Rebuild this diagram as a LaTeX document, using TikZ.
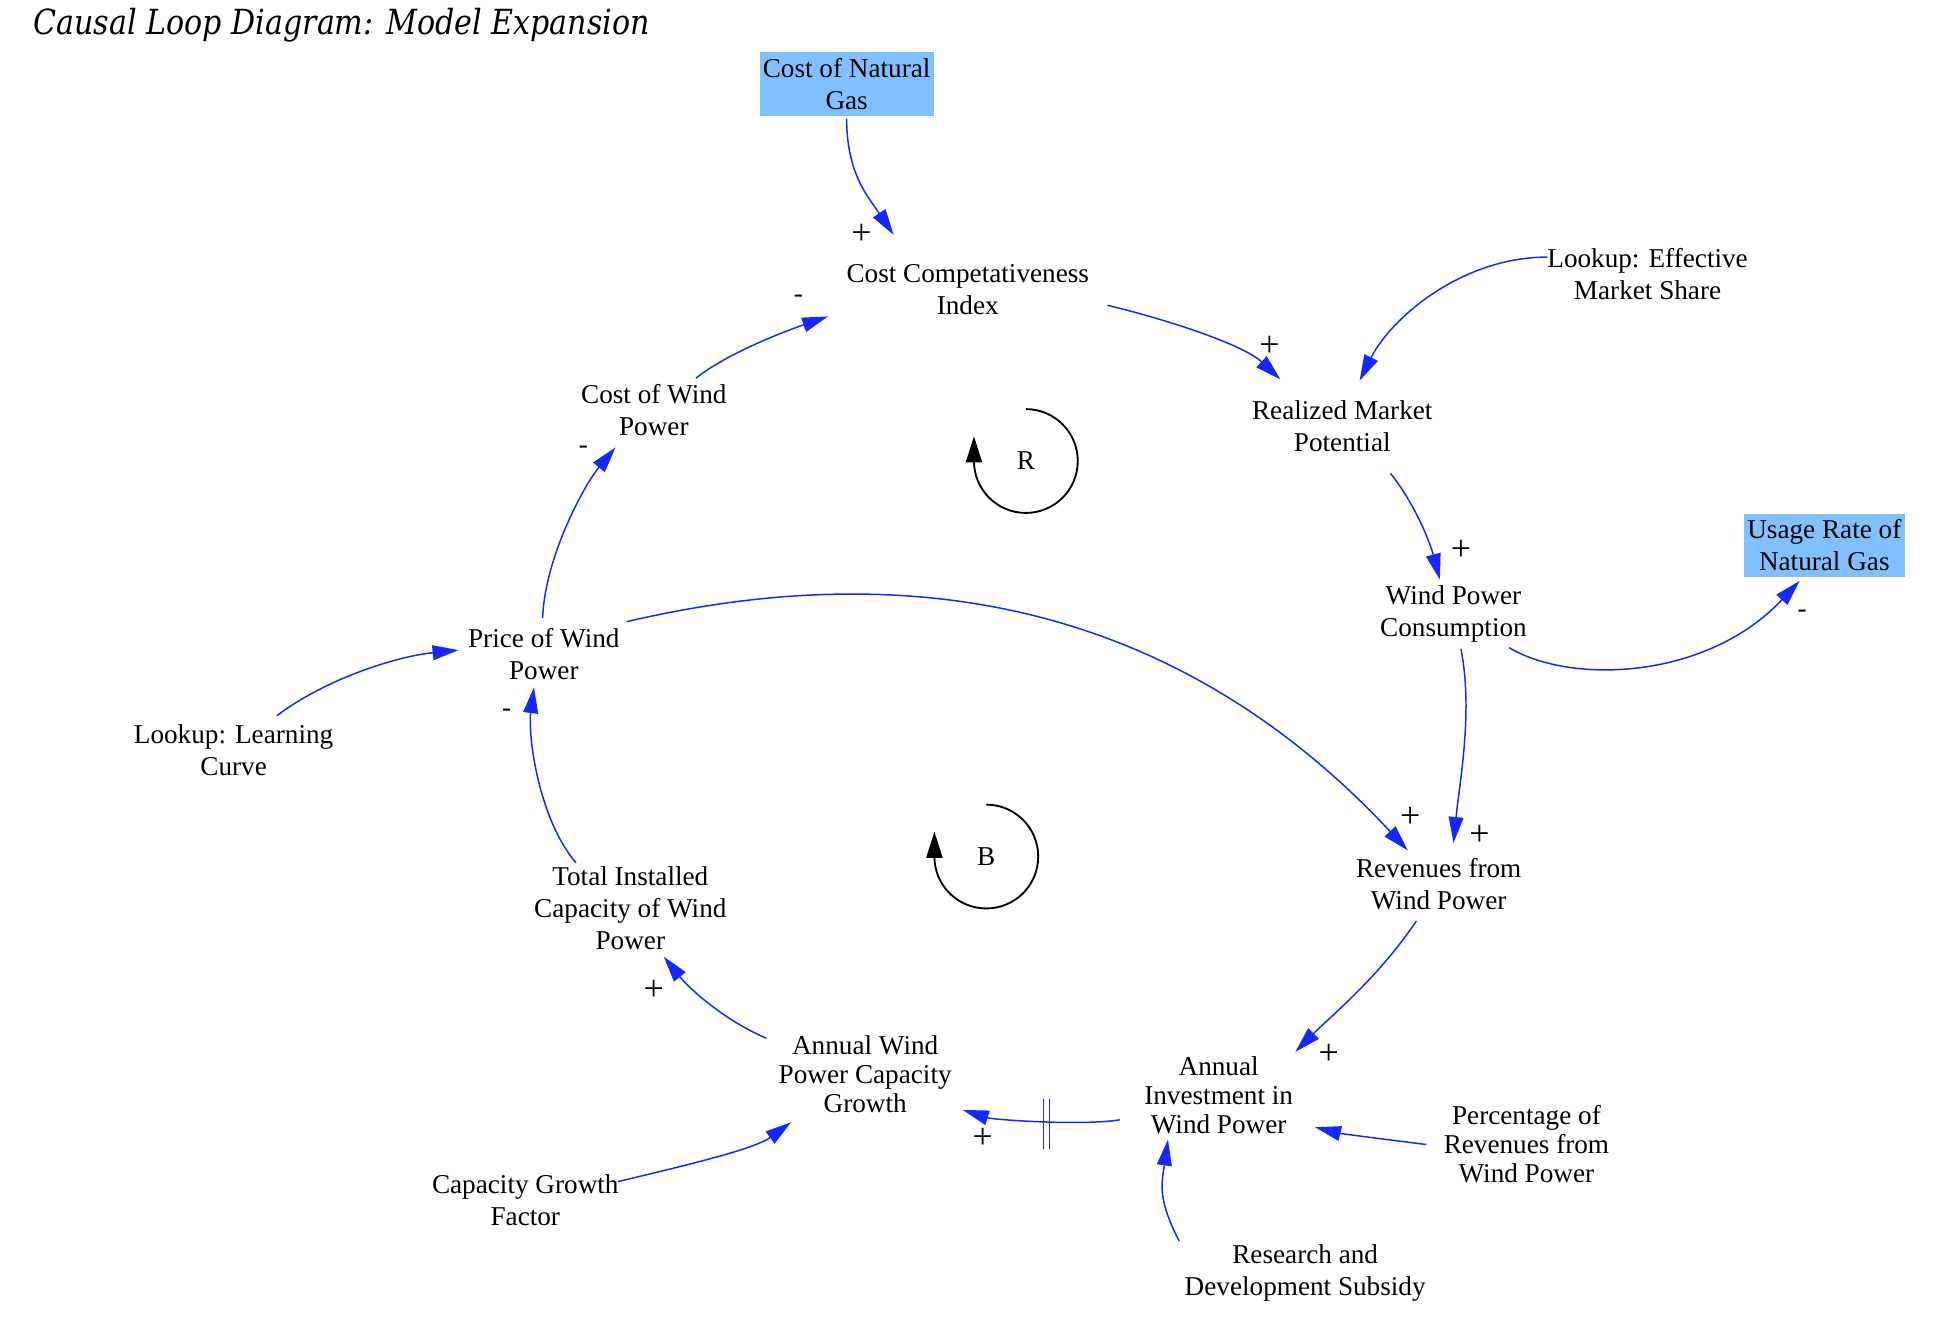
\documentclass[tikz,border=0pt]{standalone}
\usepackage{fontspec}
\setmainfont{Liberation Serif}
\newfontfamily\titlefont[FakeStretch=0.87]{DejaVu Serif}
\usetikzlibrary{arrows.meta,calc}
\definecolor{boxblue}{RGB}{128,192,255}
\definecolor{linkblue}{RGB}{20,40,255}
\tikzset{
  var/.style={align=center, inner sep=0pt, font=\fontsize{22}{26}\selectfont},
  varthree/.style={align=center, inner sep=0pt, font=\fontsize{22}{23.5}\selectfont},
  exo/.style={align=center, inner sep=0pt, fill=boxblue, font=\fontsize{22}{26}\selectfont},
  link/.style={draw=linkblue, line width=1.2pt, -{Triangle[length=21pt,width=12pt]}},
  delaymark/.style={draw=linkblue, line width=1pt},
  signplus/.style={inner sep=0pt, font=\fontsize{29}{30}\selectfont},
  signminus/.style={inner sep=0pt, font=\fontsize{22}{26}\selectfont},
  loopline/.style={draw=black, line width=1.5pt, -{Triangle[length=21pt,width=13pt]}},
  looplabel/.style={inner sep=0pt, font=\fontsize{22}{26}\selectfont},
}
\begin{document}
\begin{tikzpicture}[x=1pt,y=-1pt]
\useasboundingbox (0,0) rectangle (1568,1074);
% title
\node[anchor=west, inner sep=0pt] (title) at (27,20) {\titlefont\itshape\fontsize{28}{32}\selectfont Causal Loop Diagram: Model Expansion};
% variables
\node[exo, minimum width=141pt, minimum height=52pt] (nat) at (685,68) {Cost of Natural\\Gas};
\node[var] (cci) at (783,234) {Cost Competativeness\\Index};
\node[var] (cwp) at (529,332) {Cost of Wind\\Power};
\node[var] (rmp) at (1086,345) {Realized Market\\Potential};
\node[var] (lems) at (1333,222) {Lookup: Effective\\Market Share};
\node[var] (wpc) at (1176,497) {Wind Power\\Consumption};
\node[exo, minimum width=130pt, minimum height=51pt] (urng) at (1476,441) {Usage Rate of\\Natural Gas};
\node[var] (pwp) at (440,529) {Price of Wind\\Power};
\node[var] (llc) at (189,607) {Lookup: Learning\\Curve};
\node[var] (rev) at (1164,715) {Revenues from\\Wind Power};
\node[var] (tic) at (510,735) {Total Installed\\Capacity of Wind\\Power};
\node[varthree] (awpcg) at (700,869) {Annual Wind\\Power Capacity\\Growth};
\node[varthree] (aiwp) at (986,886) {Annual\\Investment in\\Wind Power};
\node[varthree] (prev) at (1235,926) {Percentage of\\Revenues from\\Wind Power};
\node[var] (cgf) at (425,971) {Capacity Growth\\Factor};
\node[var] (rds) at (1056,1030) {Research and\\Development Subsidy};
% loop markers
\node[looplabel] (rl) at (830,373) {R};
\node[looplabel] (bl) at (798,693) {B};
\draw[loopline] ($(rl)+(0,-42)$) arc[start angle=-90, end angle=180, radius=42] -- ++(0,-20);
\draw[loopline] ($(bl)+(0,-42)$) arc[start angle=-90, end angle=180, radius=42] -- ++(0,-20);
% connectors
\draw[link] ($(nat)+(0,28)$) .. controls +(0,45) and +(-20,-30) .. ($(cci)+(-60,-44)$);
\draw[link] ($(cwp)+(34,-26)$) .. controls +(25,-20) and +(-35,12) .. ($(cci)+(-113,22)$);
\draw[link] ($(cci)+(113,13)$) .. controls +(50,12) and +(-30,-28) .. ($(rmp)+(-50,-38)$);
\draw[link] ($(lems)+(-81,-14)$) .. controls +(-70,0) and +(25,-50) .. ($(rmp)+(14,-37)$);
\draw[link] ($(rmp)+(39,38)$) .. controls +(20,25) and +(-8,-30) .. ($(wpc)+(-11,-28)$);
\draw[link] ($(wpc)+(45,27)$) .. controls +(50,30) and +(-75,80) .. ($(urng)+(-20,29)$);
\draw[link] ($(wpc)+(6,28)$) .. controls +(10,50) and +(5,-50) .. ($(rev)+(12,-33)$);
\draw[link] ($(pwp)+(67,-26)$) .. controls +(260,-61) and +(-168,-180) .. ($(rev)+(-25,-27)$);
\draw[link] ($(pwp)+(-1,-29)$) .. controls +(2,-50) and +(-25,30) .. ($(cwp)+(-31,30)$);
\draw[link] ($(llc)+(35,-28)$) .. controls +(40,-30) and +(-50,5) .. ($(pwp)+(-69,-3)$);
\draw[link] ($(tic)+(-44,-37)$) .. controls +(-30,-35) and +(-5,40) .. ($(pwp)+(-8,27)$);
\draw[link] ($(rev)+(-18,30)$) .. controls +(-30,45) and +(30,-30) .. ($(aiwp)+(62,-35)$);
\draw[link] ($(aiwp)+(-80,20)$) .. controls +(-30,5) and +(25,8) .. ($(awpcg)+(79,29)$);
\draw[link] ($(awpcg)+(-80,-29)$) .. controls +(-35,-15) and +(20,25) .. ($(tic)+(27,39)$);
\draw[link] ($(cgf)+(75,-15)$) .. controls +(50,-12) and +(-30,22) .. ($(awpcg)+(-60,39)$);
\draw[link] ($(prev)+(-81,0)$) .. controls +(-40,-5) and +(20,5) .. ($(aiwp)+(78,26)$);
\draw[link] ($(rds)+(-102,-26)$) .. controls +(-18,-35) and +(-5,35) .. ($(aiwp)+(-41,36)$);
% delay mark
\draw[delaymark] ($(aiwp)+(-142,3)$) -- ($(aiwp)+(-142,44)$);
\draw[delaymark] ($(aiwp)+(-137,3)$) -- ($(aiwp)+(-137,44)$);
% polarity signs
\node[signplus] (s1) at (697,190) {+};
\node[signminus] (s2) at (646,242) {-};
\node[signplus] (s3) at (1027,280) {+};
\node[signplus] (s4) at (1182,445) {+};
\node[signminus] (s5) at (1458,497) {-};
\node[signplus] (s6) at (1197,676) {+};
\node[signplus] (s7) at (1141,661) {+};
\node[signminus] (s8) at (472,364) {-};
\node[signminus] (s9) at (410,577) {-};
\node[signplus] (s10) at (1075,853) {+};
\node[signplus] (s11) at (795,921) {+};
\node[signplus] (s12) at (529,801) {+};
\end{tikzpicture}
\end{document}
